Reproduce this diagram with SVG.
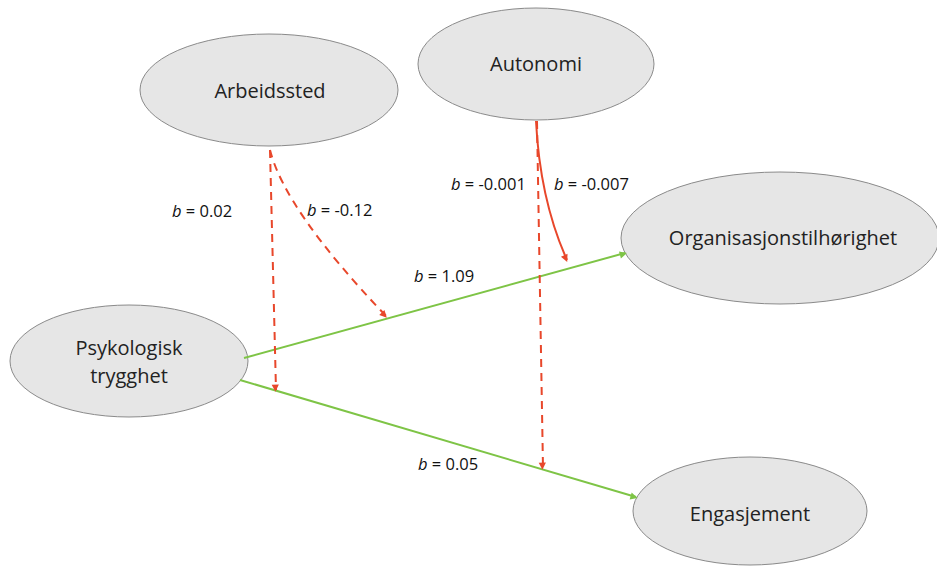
<svg xmlns="http://www.w3.org/2000/svg" width="937" height="566" viewBox="0 0 937 566">
<style>
.node{fill:#e6e6e6;stroke:#8a8a8a;stroke-width:1}
.lbl{font-family:"Open Sans","Liberation Sans",sans-serif;font-size:20px;fill:#222;text-anchor:middle}
.b{font-family:"Open Sans","Liberation Sans",sans-serif;font-size:16.5px;fill:#111}
.g{stroke:#7ec446;stroke-width:2;fill:none}
.r{stroke:#e8472b;stroke-width:2;fill:none}
.d{stroke-dasharray:8,6}
</style>
<defs>
<marker id="ag" viewBox="0 0 10 10" refX="9" refY="5" markerWidth="6" markerHeight="6" orient="auto" markerUnits="userSpaceOnUse" overflow="visible"><path d="M0,0 L10,5 L0,10 z" fill="#7ec446" transform="scale(1.2)"/></marker>
<marker id="ar" viewBox="0 0 10 10" refX="9" refY="5" markerWidth="6" markerHeight="6" orient="auto" markerUnits="userSpaceOnUse" overflow="visible"><path d="M0,0 L10,5 L0,10 z" fill="#e8472b" transform="scale(1.2)"/></marker>
</defs>
<rect width="937" height="566" fill="#fff"/>
<g id="arbeidssted"><ellipse class="node" cx="269" cy="90" rx="129" ry="56"/><text class="lbl" x="270" y="98">Arbeidssted</text></g>
<g id="autonomi"><ellipse class="node" cx="536" cy="64" rx="118" ry="56"/><text class="lbl" x="536" y="71">Autonomi</text></g>
<g id="org"><ellipse class="node" cx="780" cy="238" rx="159" ry="66"/><text class="lbl" x="783" y="245">Organisasjonstilhørighet</text></g>
<g id="psyk"><ellipse class="node" cx="129" cy="361" rx="119" ry="56"/><text class="lbl" x="129" y="355">Psykologisk</text><text class="lbl" x="129" y="383">trygghet</text></g>
<g id="eng"><ellipse class="node" cx="750" cy="511" rx="117" ry="54"/><text class="lbl" x="750" y="521">Engasjement</text></g>
<g id="connectors">
<path class="g" d="M244,358 L625,253" marker-end="url(#ag)"/>
<path class="g" d="M240,380 L636,497" marker-end="url(#ag)"/>
<path class="r d" d="M270,150 L276,390" marker-end="url(#ar)"/>
<path class="r d" d="M270,150 Q285,210 386,316" marker-end="url(#ar)"/>
<path class="r" d="M536,121 Q540,200 567,260" marker-end="url(#ar)"/>
<path class="r d" d="M537,121 L543,468" marker-end="url(#ar)"/>
</g>
<g id="labels">
<text class="b" x="172" y="217"><tspan font-style="italic">b</tspan> = 0.02</text>
<text class="b" x="307" y="216"><tspan font-style="italic">b</tspan> = -0.12</text>
<text class="b" x="451" y="190"><tspan font-style="italic">b</tspan> = -0.001</text>
<text class="b" x="554" y="190"><tspan font-style="italic">b</tspan> = -0.007</text>
<text class="b" x="414" y="282"><tspan font-style="italic">b</tspan> = 1.09</text>
<text class="b" x="418" y="470"><tspan font-style="italic">b</tspan> = 0.05</text>
</g>
</svg>
